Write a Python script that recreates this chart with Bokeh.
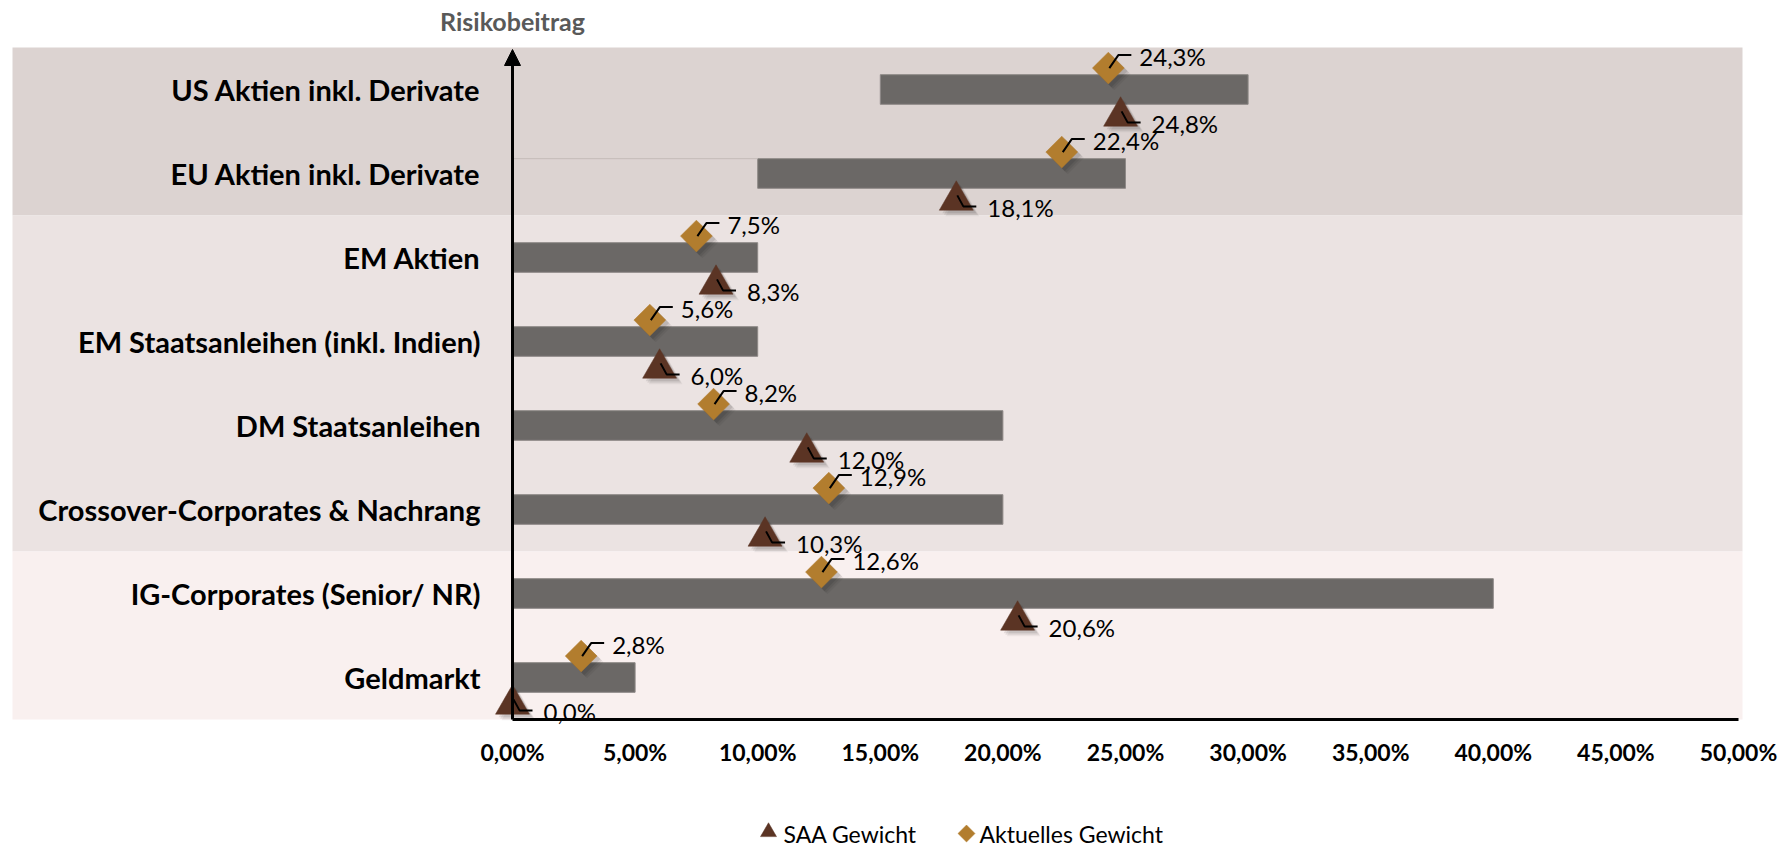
from bokeh.plotting import figure
from bokeh.models import Range1d, FixedTicker, Arrow, NormalHead
from bokeh.core.properties import value
from bokeh.embed import file_html
from bokeh.resources import INLINE

# --- data -----------------------------------------------------------------
categories = [
    "US Aktien inkl. Derivate",
    "EU Aktien inkl. Derivate",
    "EM Aktien",
    "EM Staatsanleihen (inkl. Indien)",
    "DM Staatsanleihen",
    "Crossover-Corporates & Nachrang",
    "IG-Corporates (Senior/ NR)",
    "Geldmarkt",
]
range_low = [0.15, 0.10, 0.0, 0.0, 0.0, 0.0, 0.0, 0.0]
range_high = [0.30, 0.25, 0.10, 0.10, 0.20, 0.20, 0.40, 0.05]
saa_weight = [0.248, 0.181, 0.083, 0.060, 0.120, 0.103, 0.206, 0.000]
current_weight = [0.243, 0.224, 0.075, 0.056, 0.082, 0.129, 0.126, 0.028]

tick_values = [0.0, 0.05, 0.10, 0.15, 0.20, 0.25, 0.30, 0.35, 0.40, 0.45, 0.50]
tick_labels = ["0,00%", "5,00%", "10,00%", "15,00%", "20,00%", "25,00%",
               "30,00%", "35,00%", "40,00%", "45,00%", "50,00%"]

series_names = ["SAA Gewicht", "Aktuelles Gewicht"]
axis_title = "Risikobeitrag"

# row spans (first, last+1) of the shaded asset-class groups
band_groups = [(0, 2), (2, 6), (6, 8)]
band_colors = ["#dcd3d1", "#ebe3e2", "#f9f0ef"]

# --- canvas geometry (the frame covers the whole page) ----------------------
W, H = 1790, 850
ORIGIN_X = 512        # pixel column of 0 %
ORIGIN_Y = 719        # pixel row of the horizontal axis
PX_PER_UNIT = 2452    # pixels per 100 %
n = len(categories)
SLOT = 84             # pixels per category row

X_START = -ORIGIN_X / PX_PER_UNIT
X_END = X_START + W / PX_PER_UNIT
Y_START = -(H - ORIGIN_Y) / SLOT
Y_END = Y_START + H / SLOT


def px_to_x(px):
    return X_START + px / PX_PER_UNIT


def px_to_y(py):
    return Y_END - py / SLOT


px_x = PX_PER_UNIT
px_y = SLOT

BAR_COLOR = "#6b6866"
BAR_EDGE = "#8e8987"
SAA_COLOR = "#5b3424"
CUR_COLOR = "#b27d2e"
FONT = "Lato"


def pct(v):
    return f"{v * 100:.1f}".replace(".", ",") + "%"


y_center = [n - i - 0.5 for i in range(n)]
bar_h = 0.353
y_cur = [y + 0.255 for y in y_center]
y_saa = [y - 0.32 for y in y_center]

p = figure(
    width=W, height=H, min_border=0,
    x_range=Range1d(X_START, X_END), y_range=Range1d(Y_START, Y_END),
    output_backend="svg", toolbar_location=None,
    y_axis_location=None,
)
p.outline_line_color = None
p.grid.visible = False
p.background_fill_color = "white"
p.border_fill_color = "white"

# shaded group backgrounds
band_left, band_right = px_to_x(12), px_to_x(1742)
for (a, b), col in zip(band_groups, band_colors):
    p.quad(left=band_left, right=band_right, top=n - a, bottom=n - b,
           fill_color=col, line_color=None)

# range bars
p.hbar(y=y_center, left=range_low, right=range_high, height=bar_h,
       fill_color=BAR_COLOR, line_color=BAR_EDGE, line_width=1)

# faint edge of the hidden base segment (EU row)
p.segment(x0=0, y0=y_center[1] + bar_h / 2, x1=range_low[1], y1=y_center[1] + bar_h / 2,
          line_color="#c4bab8", line_width=1)

# soft drop shadows below the markers
for off, alpha in [(6, 0.05), (4.5, 0.07), (3, 0.09)]:
    p.scatter(x=[v + off / px_x for v in current_weight], y=[y - off / px_y for y in y_cur],
              marker="square", angle=0.7854, size=23, fill_color="black",
              fill_alpha=alpha, line_color=None)
    p.scatter(x=[v + off / px_x for v in saa_weight], y=[y - off / px_y for y in y_saa],
              marker="triangle", size=34, fill_color="black",
              fill_alpha=alpha, line_color=None)

# x axis pinned at the base line
p.xaxis.fixed_location = 0
p.xaxis.ticker = FixedTicker(ticks=tick_values)
p.xaxis.major_label_overrides = dict(zip(tick_values, tick_labels))
p.xaxis.bounds = (tick_values[0], tick_values[-1])
p.xaxis.axis_line_width = 3
p.xaxis.axis_line_color = "black"
p.xaxis.major_tick_line_color = None
p.xaxis.minor_tick_line_color = None
p.xaxis.major_tick_out = 0
p.xaxis.major_label_standoff = 18
p.xaxis.major_label_text_font = FONT
p.xaxis.major_label_text_font_style = "bold"
p.xaxis.major_label_text_font_size = "23px"
p.xaxis.major_label_text_color = "black"

# vertical axis with arrow head
p.add_layout(Arrow(end=NormalHead(size=16, fill_color="black", line_color="black"),
                   x_start=0, y_start=0, x_end=0, y_end=n - 2 / px_y,
                   line_width=3, line_color="black"))
p.text(x=[0], y=[n], text=[axis_title], y_offset=-27,
       text_align="center", text_baseline="middle",
       text_font=value(FONT), text_font_style="bold", text_font_size="25px",
       text_color="#595959")

# category labels
p.text(x=[0] * n, y=y_center, text=categories, x_offset=-32,
       text_align="right", text_baseline="middle",
       text_font=value(FONT), text_font_style="bold", text_font_size="29px",
       text_color="black")

# markers
p.scatter(x=saa_weight, y=y_saa, marker="triangle", size=34,
          fill_color=SAA_COLOR, line_color=SAA_COLOR, line_width=0.5)
p.scatter(x=current_weight, y=y_cur, marker="square", angle=0.7854, size=22.5,
          fill_color=CUR_COLOR, line_color=CUR_COLOR, line_width=0.5)

# leader lines, drawn over the markers
cur_xs = [[v + 1 / px_x, v + 10 / px_x, v + 23 / px_x] for v in current_weight]
cur_ys = [[y, y + 13 / px_y, y + 13 / px_y] for y in y_cur]
saa_xs = [[v + 1 / px_x, v + 7 / px_x, v + 20 / px_x] for v in saa_weight]
saa_ys = [[y + 5 / px_y, y - 6 / px_y, y - 6 / px_y] for y in y_saa]
p.multi_line(xs=cur_xs + saa_xs, ys=cur_ys + saa_ys, line_color="black", line_width=2)

# value labels
p.text(x=current_weight, y=y_cur, text=[pct(v) for v in current_weight],
       x_offset=31, y_offset=-12, text_align="left", text_baseline="middle",
       text_font=value(FONT), text_font_size="24px", text_color="black")
p.text(x=saa_weight, y=y_saa, text=[pct(v) for v in saa_weight],
       x_offset=31, y_offset=7, text_align="left", text_baseline="middle",
       text_font=value(FONT), text_font_size="24px", text_color="black")

# legend row below the axis
legend_y = px_to_y(833)
p.scatter(x=[px_to_x(768)], y=[legend_y + 1.5 / px_y], marker="triangle", size=16,
          fill_color=SAA_COLOR, line_color=SAA_COLOR, line_width=0.5)
p.scatter(x=[px_to_x(966)], y=[legend_y], marker="square", angle=0.7854, size=12,
          fill_color=CUR_COLOR, line_color=CUR_COLOR, line_width=0.5)
p.text(x=[px_to_x(783), px_to_x(979)], y=[legend_y, legend_y], text=series_names,
       text_align="left", text_baseline="middle",
       text_font=value(FONT), text_font_size="23px", text_color="black")

open("out.html", "w").write(file_html(p, INLINE))
